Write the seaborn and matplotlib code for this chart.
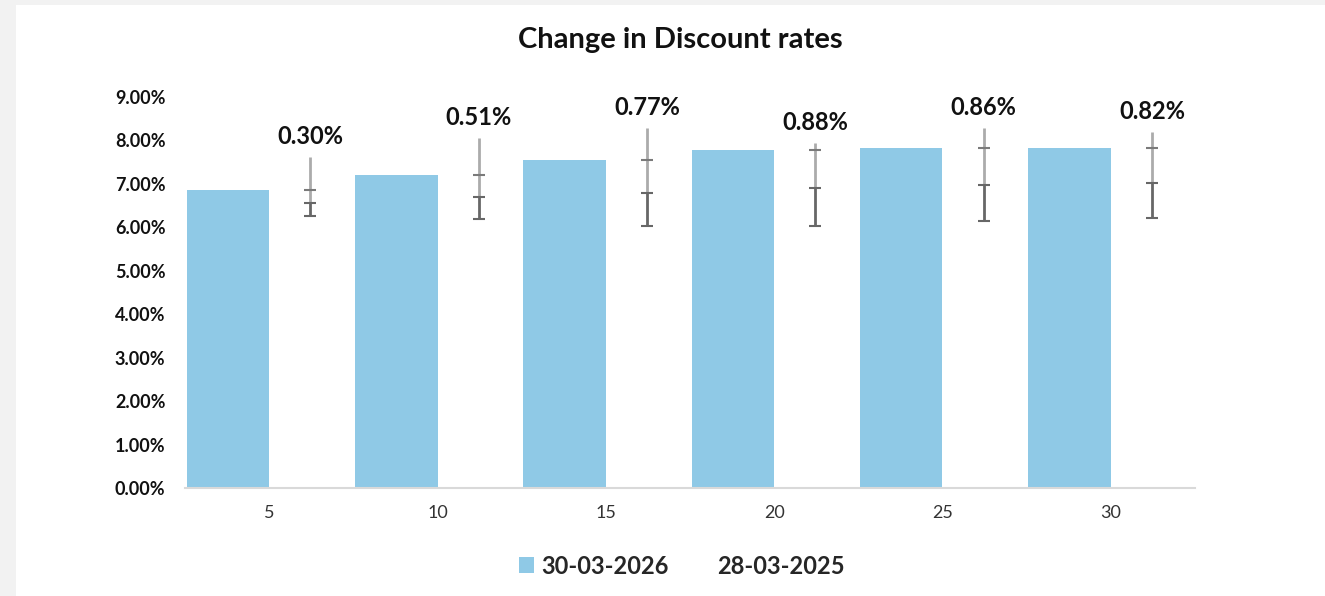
import pandas as pd
import matplotlib.pyplot as plt
import matplotlib.patches as mpatches
import seaborn as sns

# Values (percent)
tenors = [5, 10, 15, 20, 25, 30]
rate_2026 = [6.85, 7.21, 7.55, 7.78, 7.83, 7.83]
rate_2025 = [6.55, 6.70, 6.78, 6.90, 6.97, 7.01]
change_labels = ['0.30%', '0.51%', '0.77%', '0.88%', '0.86%', '0.82%']
whisker_top = [7.62, 8.05, 8.29, 7.93, 8.29, 8.19]
whisker_bottom = [6.25, 6.19, 6.03, 6.04, 6.15, 6.21]
series = ['30-03-2026', '28-03-2025']
colors = ['#8FC9E6', '#FFFFFF']

df = pd.DataFrame({
    'Tenor': tenors * 2,
    'Rate': rate_2026 + rate_2025,
    'Date': [series[0]] * len(tenors) + [series[1]] * len(tenors),
})

sns.set_style('white')
plt.rcParams['font.family'] = ['Lato', 'DejaVu Sans']

fig = plt.figure(figsize=(13.25, 5.96), dpi=100, facecolor='#F2F2F2')
# white chart panel, kept behind the axes
panel = mpatches.Rectangle((16 / 1325, 0), 1, 1 - 5 / 596, transform=fig.transFigure,
                           facecolor='white', edgecolor='none', zorder=-10)
fig.patches.append(panel)
ax = fig.add_axes([185 / 1325, 1 - 488 / 596, 1010 / 1325, 391 / 596])
ax.set_facecolor('none')

sns.barplot(data=df, x='Tenor', y='Rate', hue='Date', hue_order=series,
            palette=colors, saturation=1, width=0.98, gap=0, linewidth=0,
            legend=False, ax=ax)

# the 2025 bars are only anchors for the whiskers
for p in ax.containers[1].patches:
    p.set_visible(False)

xs = [p.get_x() + p.get_width() / 2 for p in ax.containers[1].patches]
ax.vlines(xs, rate_2025, whisker_top, color='#ABABAB', lw=2, zorder=3)
ax.errorbar(xs, rate_2025,
            yerr=[[a - b for a, b in zip(rate_2025, whisker_bottom)], [0] * len(xs)],
            fmt='none', ecolor='#676767', elinewidth=2, capsize=4, capthick=1.5, zorder=4)
ax.plot(xs, rate_2026, ls='none', marker='_', ms=8, mew=1.5, color='#7A7A7A', zorder=5)

for x, top, lab in zip(xs, whisker_top, change_labels):
    ax.annotate(lab, (x, top), xytext=(0, 15), textcoords='offset points',
                ha='center', va='center', fontsize=17, fontweight='bold', color='#111111')

ax.set_ylim(0, 9)
ax.set_xlim(-0.5, len(tenors) - 0.5)
ax.set_yticks(range(10))
ax.set_yticklabels([f'{v:.2f}%' for v in range(10)])
ax.tick_params(axis='y', length=0, pad=14, labelsize=13, labelcolor='#111111')
for t in ax.get_yticklabels():
    t.set_fontweight('bold')
ax.tick_params(axis='x', which='major', length=0, pad=12, labelsize=13, labelcolor='#333333')
ax.set_xticks([i - 0.5 for i in range(len(tenors) + 1)], minor=True)
ax.tick_params(axis='x', which='minor', length=5, width=1.5, color='#D9D9D9')
ax.set_xlabel('')
ax.set_ylabel('')

sns.despine(ax=ax, left=True)
ax.spines['bottom'].set_color('#D9D9D9')
ax.spines['bottom'].set_linewidth(1.5)

fig.text(680 / 1325, 1 - 40 / 596, 'Change in Discount rates', ha='center', va='center',
         fontsize=21, fontweight='bold', color='#111111')

handles = [mpatches.Patch(facecolor=c, edgecolor='none', label=s) for c, s in zip(colors, series)]
fig.legend(handles=handles, loc='center', bbox_to_anchor=(682 / 1325, 1 - 566 / 596),
           ncol=2, frameon=False, handlelength=0.65, handleheight=0.65,
           handletextpad=0.3, columnspacing=1.1,
           prop={'size': 17, 'weight': 'bold'})

fig.savefig('out.png', dpi=100, facecolor=fig.get_facecolor())
